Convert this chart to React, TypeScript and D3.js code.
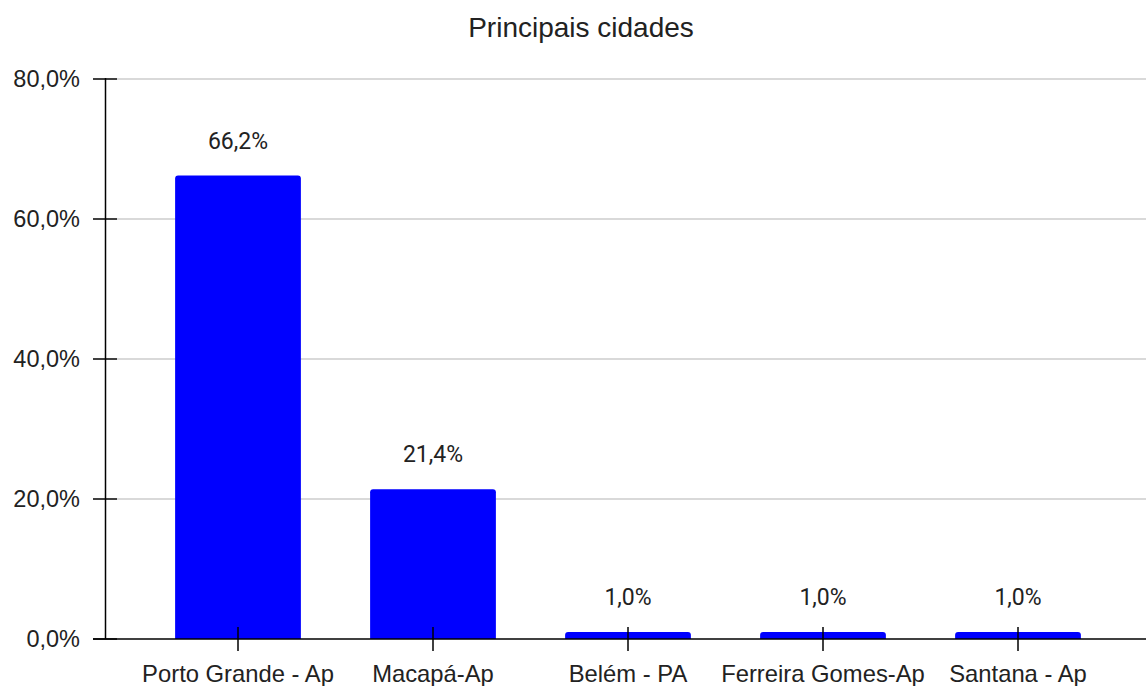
import React from "react";
import * as d3 from "d3";

const categories = ["Porto Grande - Ap", "Macapá-Ap", "Belém - PA", "Ferreira Gomes-Ap", "Santana - Ap"];
const values = [66.2, 21.4, 1.0, 1.0, 1.0];
const yTicks = [0, 20, 40, 60, 80];

const W = 1146;
const H = 686;
const ARIAL = "Liberation Sans, Arial, sans-serif";

export default function App() {
  const y = d3.scaleLinear().domain([0, 80]).range([639, 79]);
  const x = d3.scaleBand().domain(categories).range([140.5, 1115.5]).paddingInner(0.355).paddingOuter(0.355 / 2);
  const fmt = (v: number) => v.toFixed(1).replace(".", ",") + "%";
  const bw = x.bandwidth();
  const r = 3;
  return (
    <svg width={W} height={H} style={{ position: "absolute", left: 0, top: 0, background: "#fff" }}>
      <text x={581} y={37} textAnchor="middle" fontFamily={ARIAL} fontSize={28} fill="#222">
        Principais cidades
      </text>
      {yTicks.map((t) => (
        <g key={t}>
          {t > 0 && <line x1={117} x2={W} y1={y(t)} y2={y(t)} stroke="#cccccc" strokeWidth={1.5} />}
          <line x1={93} x2={117} y1={y(t)} y2={y(t)} stroke="#000" strokeWidth={1.5} />
          <text x={80} y={y(t) + 7.5} textAnchor="end" fontFamily={ARIAL} fontSize={23.5} fill="#222">
            {fmt(t)}
          </text>
        </g>
      ))}
      {categories.map((c, i) => {
        const x0 = x(c)!;
        const top = y(values[i]);
        const bottom = y(0);
        const h = bottom - top;
        const rr = Math.min(r, h / 2);
        const d = `M${x0},${bottom} L${x0},${top + rr} Q${x0},${top} ${x0 + rr},${top} L${x0 + bw - rr},${top} Q${x0 + bw},${top} ${x0 + bw},${top + rr} L${x0 + bw},${bottom} Z`;
        return (
          <g key={c}>
            <path d={d} fill="#0000ff" />
            <text x={x0 + bw / 2} y={top - 27} textAnchor="middle" fontFamily="Roboto, sans-serif" fontSize={23} fill="#222">
              {fmt(values[i])}
            </text>
          </g>
        );
      })}
      <line x1={105.5} x2={105.5} y1={78} y2={639} stroke="#000" strokeWidth={1.5} />
      <line x1={93} x2={W} y1={639} y2={639} stroke="#000" strokeWidth={1.5} />
      {categories.map((c) => {
        const cx = x(c)! + bw / 2;
        return (
          <g key={c + "t"}>
            <line x1={cx} x2={cx} y1={627} y2={651} stroke="#000" strokeWidth={1.5} />
            <text x={cx} y={682} textAnchor="middle" fontFamily={ARIAL} fontSize={23.8} fill="#222">
              {c}
            </text>
          </g>
        );
      })}
    </svg>
  );
}
